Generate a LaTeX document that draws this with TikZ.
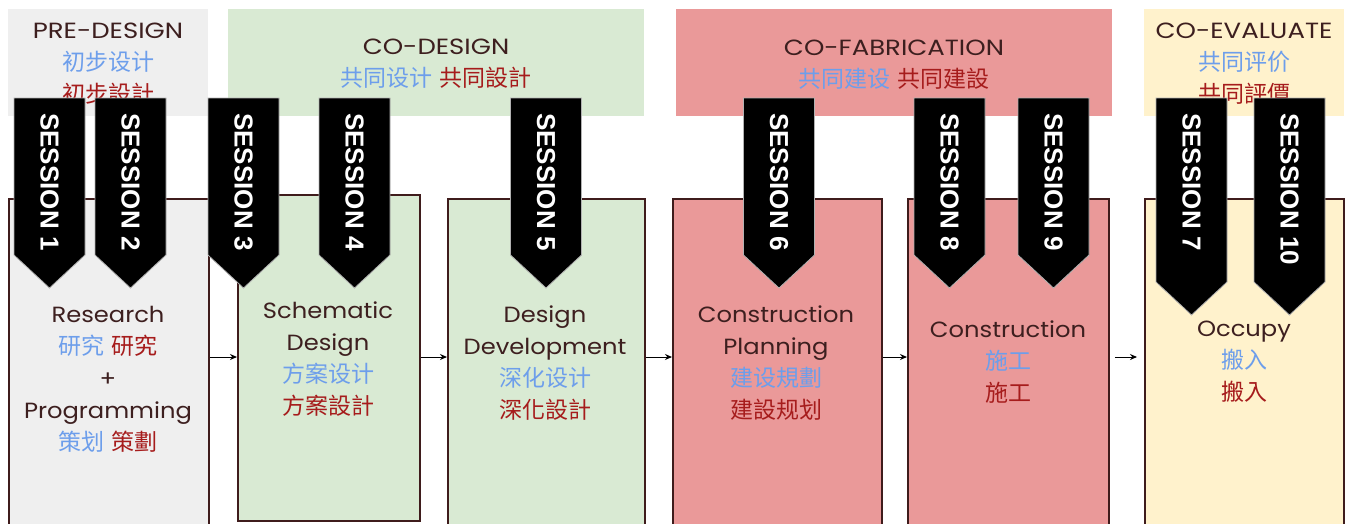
\documentclass[tikz,border=0pt]{standalone}
\usepackage{fontspec}
\setmainfont{Poppins}[FakeStretch=1.1]
\newfontfamily\hdrfont{Poppins}[FakeStretch=1.18]
\newfontfamily\sessfont{Liberation Sans}
\newfontfamily\cjksc{Noto Sans CJK SC}
\newfontfamily\cjktc{Noto Sans CJK TC}
\usetikzlibrary{arrows.meta}
\definecolor{ink}{HTML}{3D1F1F}
\definecolor{boxline}{HTML}{3F1C1C}
\definecolor{cnblue}{HTML}{6D9EEB}
\definecolor{cnred}{HTML}{A61C1C}
\definecolor{fgray}{HTML}{EFEFEF}
\definecolor{fgreen}{HTML}{D9EAD3}
\definecolor{fred}{HTML}{EA9999}
\definecolor{fyellow}{HTML}{FFF2CC}
\newcommand{\zhs}[1]{{\color{cnblue}\cjksc\fontsize{23}{32}\selectfont #1}}
\newcommand{\zht}[1]{{\color{cnred}\cjktc\fontsize{23}{32}\selectfont #1}}
\begin{document}
\begin{tikzpicture}[x=1pt,y=-1pt,
  hdr/.style={draw=none, inner sep=0pt, anchor=north west, minimum height=107pt},
  mainbox/.style={draw=boxline, line width=1.8pt, inner sep=0pt, anchor=north west},
  txt/.style={align=center, text=ink, inner sep=0pt, font=\fontsize{22}{32}\selectfont},
  htxt/.style={align=center, text=ink, inner sep=0pt, font=\hdrfont\fontsize{22}{32}\selectfont},
  sess/.style={rotate=-90, anchor=west, inner sep=0pt, text=white, font=\sessfont\bfseries\fontsize{26}{26}\selectfont},
  banner/.style={fill=black, draw=gray!60, line width=0.8pt},
  arr/.style={-{Stealth[length=7pt,width=6pt]}, line width=1pt, draw=black}]
\useasboundingbox (0,0) rectangle (1346,523);
\clip (0,0) rectangle (1346,523);
% header boxes
\node[hdr, fill=fgray, minimum width=200pt] (hpre) at (8,9) {};
\node[hdr, fill=fgreen, minimum width=416pt] (hco) at (228,9) {};
\node[hdr, fill=fred, minimum width=436pt] (hfab) at (676,9) {};
\node[hdr, fill=fyellow, minimum width=200pt] (heval) at (1144,9) {};
\node[htxt] (tpre) at (108,63.5) {PRE-DESIGN\\\zhs{初步设计}\\\zht{初步設計}};
\node[htxt] (tco) at (436,64) {CO-DESIGN\\\zhs{共同设计} \zht{共同設計}};
\node[htxt] (tfab) at (894,65) {CO-FABRICATION\\\zhs{共同建设} \zht{共同建設}};
\node[htxt] (teval) at (1244,63.5) {CO-EVALUATE\\\zhs{共同评价}\\\zht{共同評價}};
% main boxes
\node[mainbox, fill=fgray, minimum width=200pt, minimum height=340pt] (research) at (8,198) {};
\node[mainbox, fill=fgreen, minimum width=182pt, minimum height=326pt] (schem) at (237,194) {};
\node[mainbox, fill=fgreen, minimum width=197pt, minimum height=340pt] (dd) at (447,198) {};
\node[mainbox, fill=fred, minimum width=209pt, minimum height=340pt] (cp) at (672,198) {};
\node[mainbox, fill=fred, minimum width=201pt, minimum height=340pt] (cons) at (907,198) {};
\node[mainbox, fill=fyellow, minimum width=199pt, minimum height=340pt] (occ) at (1144,198) {};
\node[txt] (tresearch) at (108,379) {Research\\\zhs{研究} \zht{研究}\\+\\Programming\\\zhs{策划} \zht{策劃}};
\node[txt] (tschem) at (328,359.5) {Schematic\\Design\\\zhs{方案设计}\\\zht{方案設計}};
\node[txt] (tdd) at (545,363) {Design\\Development\\\zhs{深化设计}\\\zht{深化設計}};
\node[txt] (tcp) at (776,363) {Construction\\Planning\\\zhs{建设規劃}\\\zht{建設规划}};
\node[txt] (tcons) at (1008,362) {Construction\\\zhs{施工}\\\zht{施工}};
\node[txt] (tocc) at (1244,362) {Occupy\\\zhs{搬入}\\\zht{搬入}};
% arrows
\coordinate (ay) at (0,357);
\draw[arr] (research.east |- ay) -- (schem.west |- ay);
\draw[arr] (schem.east |- ay) -- (dd.west |- ay);
\draw[arr] (dd.east |- ay) -- (cp.west |- ay);
\draw[arr] (cp.east |- ay) -- (cons.west |- ay);
\draw[arr, shorten <=5pt, shorten >=7pt] (cons.east |- ay) -- (occ.west |- ay);
% session banners
\foreach \cx/\tip/\n in {49.5/288/1, 130.5/288/2, 243.5/288/3, 354.5/288/4, 546/288/5, 779/288/6, 949.5/288/8, 1053.5/288/9, 1191.5/315/7, 1289.5/315/10} {
  \path[banner] (\cx-35.5,98) -- (\cx+35.5,98) -- (\cx+35.5,\tip-33) -- (\cx,\tip) -- (\cx-35.5,\tip-33) -- cycle;
  \node[sess] (s\n) at (\cx,113) {SESSION \n};
}
\end{tikzpicture}
\end{document}
